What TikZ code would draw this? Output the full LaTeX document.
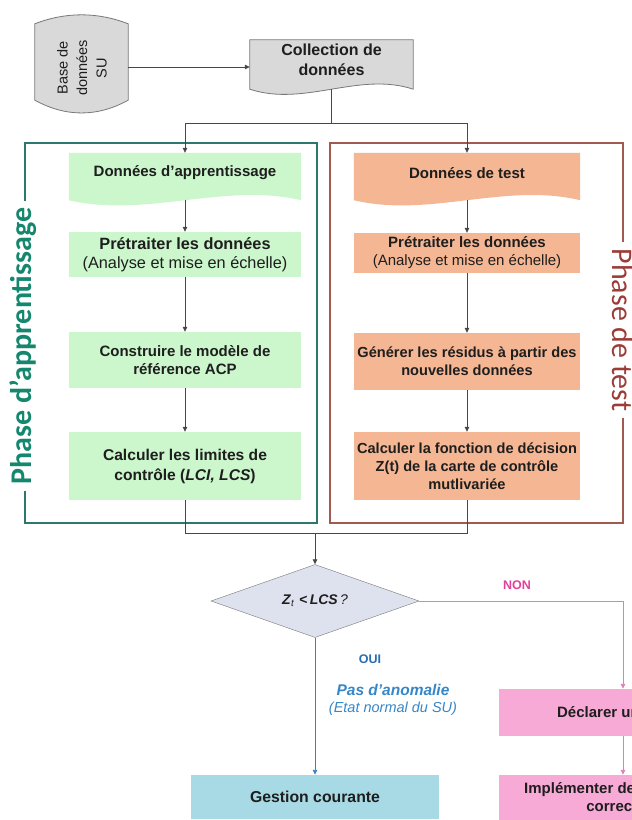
\documentclass[tikz,border=0pt]{standalone}
\usepackage{fontspec}
\setmainfont{Liberation Sans}
\newfontfamily\phasefont{Carlito}
\usetikzlibrary{arrows.meta,shapes.geometric,backgrounds,calc}

\definecolor{grayfill}{RGB}{217,217,217}
\definecolor{grayline}{RGB}{120,120,120}
\definecolor{greenfill}{RGB}{204,246,204}
\definecolor{salmonfill}{RGB}{245,182,147}
\definecolor{pinkfill}{RGB}{247,170,214}
\definecolor{bluefill}{RGB}{168,218,230}
\definecolor{diafill}{RGB}{222,226,238}
\definecolor{phgreen}{RGB}{20,135,110}
\definecolor{phgreenline}{RGB}{45,120,110}
\definecolor{phred}{RGB}{155,60,55}
\definecolor{phredline}{RGB}{160,90,80}
\definecolor{nonpink}{RGB}{226,64,154}
\definecolor{pinkline}{RGB}{228,125,182}
\definecolor{ouiblue}{RGB}{40,110,180}
\definecolor{anoblue}{RGB}{55,135,200}
\definecolor{blueline}{RGB}{60,130,190}
\definecolor{txt}{RGB}{30,30,30}

\newcommand{\docshape}[4]{%
  \path[#2] (#1.north west) -- (#1.north east) -- ($(#1.south east)+(0,#3)$)
    .. controls ($(#1.south east)!0.333!(#1.south west)+(0,#3-#4)$)
           and ($(#1.south east)!0.667!(#1.south west)+(0,#3+#4)$)
    .. ($(#1.south west)+(0,#3)$) -- cycle;}

\tikzset{
  box/.style={draw=none, inner sep=0pt, align=center, text=txt,
    font=\fontsize{15}{18}\selectfont\bfseries},
  gbox/.style={box, fill=greenfill, minimum width=232pt},
  obox/.style={box, fill=salmonfill, minimum width=226pt},
  pbox/.style={box, fill=pinkfill, minimum width=248pt},
  ln/.style={draw=black!72, line width=0.8pt},
  arr/.style={ln, -{Triangle[length=5pt,width=4.5pt]}},
  parr/.style={draw=pinkline, line width=0.9pt, -{Triangle[length=5pt,width=4.5pt]}},
  barr/.style={draw=blueline, line width=0.9pt, -{Triangle[length=5pt,width=4.5pt]}},
}

\begin{document}
\begin{tikzpicture}[x=1pt, y=-1pt]
\useasboundingbox (0,0) rectangle (632,820);
\clip (0,0) rectangle (632,820);

% phase frames
\node[draw=phgreenline, line width=1.3pt, minimum width=292pt, minimum height=380pt, inner sep=0pt] (phA) at (171,333) {};
\node[draw=phredline, line width=1.3pt, minimum width=293pt, minimum height=380pt, inner sep=0pt] (phB) at (476.5,333) {};
\node[font=\phasefont\bfseries\fontsize{30}{30}\selectfont, text=phgreen, rotate=90,
      fill=white, inner xsep=7pt, inner ysep=0pt] (labA) at (23,346) {Phase d’apprentissage};
\node[font=\phasefont\fontsize{30}{30}\selectfont, text=phred, rotate=-90,
      fill=white, inner xsep=7pt, inner ysep=0pt] (labB) at (623,330) {Phase de test};

% top
\node[minimum width=93pt, minimum height=76pt, inner sep=0pt] (cyl) at (81.5,62) {};
\node[font=\fontsize{14.5}{19.5}\selectfont, rotate=90, align=center, text=txt] (cyltxt) at (82,68) {Base de\\données\\SU};
\node[box, minimum width=163pt, minimum height=40pt, font=\fontsize{16}{19.5}\selectfont\bfseries] (coll) at (331.5,60) {Collection de\\données};
\coordinate (collb) at ($(coll.south)+(0,9)$);
\coordinate (cylout) at ($(cyl.east)+(0,5)$);

% left column
\node[box, minimum width=232pt, minimum height=40pt] (g1) at (185,173) {Données d’apprentissage};
\node[gbox, minimum height=45pt, font=\fontsize{16.3}{19}\selectfont\bfseries] (g2) at (185,254.5) {Prétraiter les données\\{\mdseries (Analyse et mise en échelle)}};
\node[gbox, minimum height=56pt] (g3) at (185,360) {Construire le modèle de\\référence ACP};
\node[gbox, minimum height=68pt, font=\fontsize{15.6}{20}\selectfont\bfseries] (g4) at (185,466) {Calculer les limites de\\contrôle (\textit{LCI, LCS})};

% right column
\node[box, minimum width=226pt, minimum height=40pt] (o1) at (467,173) {Données de test};
\node[obox, minimum height=40pt] (o2) at (467,253) {Prétraiter les données\\{\mdseries (Analyse et mise en échelle)}};
\node[obox, minimum height=57pt, font=\fontsize{14.6}{18}\selectfont\bfseries] (o3) at (467,361.5) {Générer les résidus à partir des\\nouvelles données};
\node[obox, minimum height=68pt, font=\fontsize{14.6}{18}\selectfont\bfseries] (o4) at (467,466) {Calculer la fonction de décision\\Z(t) de la carte de contrôle\\mutlivariée};

\coordinate (g1b) at ($(g1.south)+(0,7)$);
\coordinate (o1b) at ($(o1.south)+(0,7)$);

% decision
\node[diamond, draw=grayline, fill=diafill, minimum width=208pt, minimum height=73pt,
      inner sep=0pt, aspect=2.85, text=txt, font=\fontsize{14}{16}\selectfont] (dia) at (315,601)
      {\textbf{\textit{Z}}\textsubscript{\textit{t}}\,\,\textbf{<}\,\textbf{\textit{LCS}}\,\textit{?}};
\node[box, fill=bluefill, minimum width=248pt, minimum height=44pt, font=\fontsize{15.8}{18}\selectfont\bfseries] (gc) at (315,797) {Gestion courante};
\node[pbox, minimum height=47pt] (pk1) at (623,712.5) {Déclarer un défaut};
\node[pbox, minimum height=45pt] (pk2) at (623,797.5) {Implémenter des actions de\\correction};

\node[font=\fontsize{12.5}{14}\selectfont\bfseries, text=nonpink] (non) at (517,585) {NON};
\node[font=\fontsize{12.5}{14}\selectfont\bfseries, text=ouiblue] (oui) at (370,659) {OUI};
\node[font=\fontsize{15.5}{17}\selectfont\bfseries\itshape, text=anoblue] (pas) at (393,690) {Pas d’anomalie};
\node[font=\fontsize{14.5}{16}\selectfont\itshape, text=anoblue] (etat) at (393,709) {(Etat normal du SU)};

\coordinate (split) at (collb |- 0,123);
\coordinate (join) at (315,533);

% shapes on background
\begin{scope}[on background layer]
  \fill[white] (0,0) rectangle (632,820);
  \path[fill=grayfill, draw=grayline, line width=0.8pt]
    (cyl.north west)
    .. controls ($(cyl.north west)!0.333!(cyl.north east)+(0,-12)$)
           and ($(cyl.north west)!0.667!(cyl.north east)+(0,-12)$) .. (cyl.north east)
    -- (cyl.south east)
    .. controls ($(cyl.south east)!0.333!(cyl.south west)+(0,17)$)
           and ($(cyl.south east)!0.667!(cyl.south west)+(0,17)$) .. (cyl.south west)
    -- cycle;
  \docshape{coll}{fill=grayfill, draw=grayline, line width=0.8pt}{9}{18}
  \docshape{g1}{fill=greenfill}{7}{18}
  \docshape{o1}{fill=salmonfill}{7}{18}
\end{scope}

% connectors
\draw[arr] (cylout) -- (cylout -| coll.west);
\draw[ln] (collb) -- (split);
\draw[arr] (split) -| (g1.north);
\draw[arr] (split) -| (o1.north);
\draw[arr] (g1b) -- (g2.north);
\draw[arr] (g2) -- (g3);
\draw[arr] (g3) -- (g4);
\draw[arr] (o1b) -- (o2.north);
\draw[arr] (o2) -- (o3);
\draw[arr] (o3) -- (o4);
\draw[ln] (g4.south) |- (join);
\draw[ln] (o4.south) |- (join);
\draw[arr] (join) -- (dia.north);
\draw[barr] (dia.south) -- (gc.north);
\draw[parr] (dia.east) -| (pk1.north);
\draw[parr] (pk1) -- (pk2);
\end{tikzpicture}
\end{document}
